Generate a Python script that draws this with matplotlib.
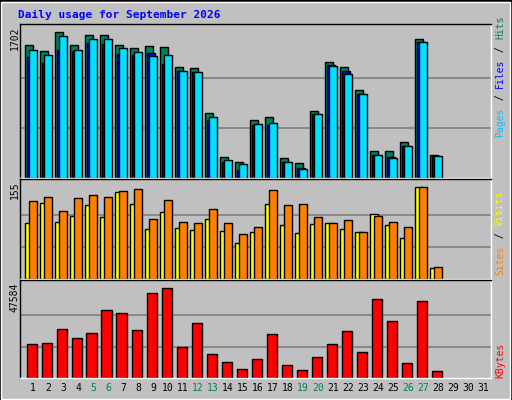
import matplotlib
matplotlib.use("Agg")
import matplotlib.pyplot as plt
from matplotlib.patches import Rectangle

days = list(range(1, 32))
hits = [1511,1443,1657,1511,1623,1623,1511,1477,1499,1488,1263,1252,735,241,184,656,690,229,173,758,1320,1263,994,308,308,409,1578,263]
files = [1368,1300,1454,1443,1533,1522,1409,1398,1420,1297,1218,1207,656,184,94,600,600,184,117,724,1286,1218,949,263,241,364,1544,252]
pages = [1454,1398,1612,1454,1578,1578,1477,1432,1387,1398,1218,1207,690,207,162,611,623,184,106,724,1275,1185,949,263,229,364,1544,252]
visits = [126,132,110,131,136,132,142,145,97,128,92,90,113,90,73,84,144,119,121,100,90,95,76,102,92,84,149,19]
sites = [90,123,92,102,119,100,141,121,81,108,82,79,97,78,58,76,121,87,74,89,90,81,76,105,87,66,149,18]
kbytes = [17010,17530,25040,20040,22540,34560,33060,24540,43080,45580,15530,28050,12020,8010,4510,9520,22040,6510,4010,10520,17030,24040,13020,40070,29050,7510,39070,3510]
weekend = [5,6,12,13,19,20,26,27]
max_hits, max_visits, max_kb = 1702, 155, 47584

W, H = 512, 400
fig = plt.figure(figsize=(W/100, H/100), dpi=100)
fig.patch.set_facecolor('#c0c0c0')
fig.add_artist(Rectangle((0, 0), 1, 1, transform=fig.transFigure, fill=False, ec='black', lw=2))
fig.add_artist(Rectangle((1/W, 1/H), 1-3/W, 1-3/H, transform=fig.transFigure, fill=False, ec='white', lw=1))
mono = 'DejaVu Sans Mono'
fig.text(18/W, 1-15/H, 'Daily usage for September 2026', color='#0000ff', fontsize=8, fontweight='bold', family=mono, va='center')

L, R = 20, 491
def mkax(top, bot, ymax):
    ax = fig.add_axes([L/W, 1-bot/H, (R-L)/W, (bot-top)/H])
    ax.set_facecolor('#c0c0c0')
    ax.set_xlim(0, (R-L)/15)
    ax.set_ylim(0, ymax*(bot-top)/(bot-top-4))
    for s in ax.spines.values():
        s.set_color('black'); s.set_linewidth(1)
    ax.spines['right'].set_color('white'); ax.spines['bottom'].set_color('white')
    ax.set_xticks([]); ax.set_yticks([])
    for f in (1/3, 2/3):
        ax.axhline(ymax*f, color='#808080', lw=1.2, zorder=0)
    return ax

off = 5/15
ax1 = mkax(24, 178, max_hits)
for i in range(len(hits)):
    x = i + off
    ax1.bar(x, hits[i], width=0.52, align='edge', color='#00805c', ec='black', lw=1)
    ax1.bar(x+0.12, files[i], width=0.52, align='edge', color='#0000ff', ec='black', lw=1)
    ax1.bar(x+0.27, pages[i], width=0.52, align='edge', color='#00e0ff', ec='black', lw=1)

ax2 = mkax(179, 279, max_visits)
for i in range(len(visits)):
    x = i + off
    ax2.bar(x, sites[i], width=0.52, align='edge', color='#ffff00', ec='black', lw=1)
    ax2.bar(x+0.27, visits[i], width=0.52, align='edge', color='#ff8000', ec='black', lw=1)

ax3 = mkax(280, 378, max_kb)
for i in range(len(kbytes)):
    ax3.bar(i + off + 0.1, kbytes[i], width=0.7, align='edge', color='#ff0000', ec='black', lw=1)

for d in days:
    xc = (25 + (d-1)*15 + 8) / W
    fig.text(xc, 1-388/H, str(d), ha='center', va='center', fontsize=7, family=mono,
             color='#00805c' if d in weekend else 'black')

for ytop, lab in ((26, str(max_hits)), (181, str(max_visits)), (283, str(max_kb))):
    fig.text(15/W, 1-ytop/H, lab, rotation=90, ha='center', va='top', fontsize=7, family=mono)

def rlabel(ybot, parts):
    y = ybot
    for txt, col in parts:
        fig.text(500/W, 1-y/H, txt, rotation=90, ha='center', va='bottom', fontsize=7,
                 family=mono, color=col)
        y -= len(txt) * 6.1
rlabel(137, [('Pages', '#00c0ff'), (' / ', 'black'), ('Files', '#0000ff'), (' / ', 'black'), ('Hits', '#00805c')])
rlabel(275, [('Sites', '#ff8000'), (' / ', 'black'), ('Visits', '#ffff00')])
rlabel(378, [('KBytes', '#ff0000')])

fig.savefig('out.png', dpi=100, facecolor=fig.get_facecolor())
